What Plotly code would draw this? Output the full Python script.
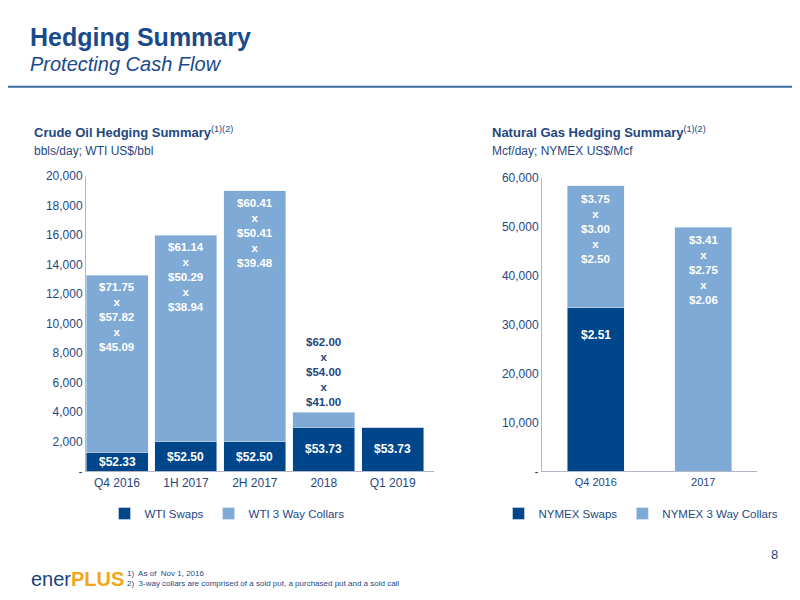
import plotly.graph_objects as go

oil_cats = ["Q4 2016", "1H 2017", "2H 2017", "2018", "Q1 2019"]
oil_swaps = [1300, 2000, 2000, 3000, 3000]
oil_collars = [12000, 14000, 17000, 1000, 0]
oil_swap_px = ["$52.33", "$52.50", "$52.50", "$53.73", "$53.73"]
oil_collar_px = ["$71.75<br>x<br>$57.82<br>x<br>$45.09", "$61.14<br>x<br>$50.29<br>x<br>$38.94",
                 "$60.41<br>x<br>$50.41<br>x<br>$39.48", "$62.00<br>x<br>$54.00<br>x<br>$41.00", ""]
gas_cats = ["Q4 2016", "2017"]
gas_swaps = [33500, 0]
gas_collars = [25000, 50000]
gas_swap_px = ["$2.51", ""]
gas_collar_px = ["$3.75<br>x<br>$3.00<br>x<br>$2.50", "$3.41<br>x<br>$2.75<br>x<br>$2.06"]

DARK = "#00468b"
LIGHT = "#7faad5"
TXT = "#1f477f"
FONT = "Liberation Sans"

def Y(p):  # target pixel row -> paper y (compensating the observed render mapping)
    d = (p - 15.4) / 0.973
    return 1 - d / 600

def X(p):
    return (p - 3) / 800

fig = go.Figure()
fig.add_bar(x=oil_cats, y=oil_swaps, name="WTI Swaps", marker_color=DARK, width=0.9,
            xaxis="x", yaxis="y", legend="legend")
fig.add_bar(x=oil_cats, y=oil_collars, name="WTI 3 Way Collars", marker_color=LIGHT, width=0.9,
            xaxis="x", yaxis="y", legend="legend")
fig.add_bar(x=gas_cats, y=gas_swaps, name="NYMEX Swaps", marker_color=DARK, width=0.53,
            xaxis="x2", yaxis="y2", legend="legend2")
fig.add_bar(x=gas_cats, y=gas_collars, name="NYMEX 3 Way Collars", marker_color=LIGHT, width=0.53,
            xaxis="x2", yaxis="y2", legend="legend2")

ann = []
lf = dict(family=FONT, size=11.5, color="white")
for i, (s, col, sp, cp) in enumerate(zip(oil_swaps, oil_collars, oil_swap_px, oil_collar_px)):
    ann.append(dict(x=i, y=s / 2, text="<b>%s</b>" % sp, xref="x", yref="y", showarrow=False,
                    yanchor="middle", font=dict(family=FONT, size=12, color="white")))
    if cp:
        if col > 5000:
            ann.append(dict(x=i, y=s + col, text="<b>%s</b>" % cp, xref="x", yref="y", showarrow=False,
                            yanchor="top", yshift=-4, font=lf))
        else:
            ann.append(dict(x=i, y=s + col, text="<b>%s</b>" % cp, xref="x", yref="y", showarrow=False,
                            yanchor="bottom", yshift=2, font=dict(family=FONT, size=11.5, color=TXT)))
for i, (s, col, sp, cp) in enumerate(zip(gas_swaps, gas_collars, gas_swap_px, gas_collar_px)):
    if sp:
        ann.append(dict(x=i, y=s, text="<b>%s</b>" % sp, xref="x2", yref="y2", showarrow=False,
                        yanchor="top", yshift=-18, font=dict(family=FONT, size=12, color="white")))
    ann.append(dict(x=i, y=s + col, text="<b>%s</b>" % cp, xref="x2", yref="y2", showarrow=False,
                    yanchor="top", yshift=-5, font=lf))

def pt(x, y, text, size, color=TXT, xa="left", ya="middle"):
    ann.append(dict(x=X(x), y=Y(y), xref="paper", yref="paper", text=text, showarrow=False,
                    xanchor=xa, yanchor=ya, font=dict(family=FONT, size=size, color=color)))

pt(23, 37, "<b>Hedging Summary</b>", 25, "#1a4a8a")
pt(23, 64, "<i>Protecting Cash Flow</i>", 20, "#1a4a8a")
pt(27, 132, "<b>Crude Oil Hedging Summary</b><sup>(1)(2)</sup>", 13)
pt(27, 151, "bbls/day; WTI US$/bbl", 12)
pt(485, 132, "<b>Natural Gas Hedging Summary</b><sup>(1)(2)</sup>", 13)
pt(485, 151, "Mcf/day; NYMEX US$/Mcf", 12)
pt(775, 553, "8", 13, "#1a4a8a", xa="right")
pt(120, 572, "1)  As of  Nov 1, 2016", 8)
pt(120, 582, "2)  3-way collars are comprised of a sold put, a purchased put and a sold call", 8)
pt(24, 577, "<span style='color:#1c3f80'>ener</span><b><span style='color:#f0a818'>PLUS</span></b>", 20)

ax = dict(showgrid=False, linecolor="#b0b8c8", showline=True, ticks="",
          tickfont=dict(family=FONT, size=12, color=TXT))
fig.update_layout(
    width=800, height=600, margin=dict(l=0, r=0, t=0, b=0),
    paper_bgcolor="white", plot_bgcolor="white", barmode="stack", showlegend=True,
    xaxis=dict(ax, type="category", domain=[X(81), X(429)], range=[-0.45, 4.6]),
    yaxis=dict(ax, domain=[Y(470), Y(176)], range=[0, 20000], tickvals=list(range(0, 20001, 2000)),
               ticktext=["-"] + ["{:,}".format(v) for v in range(2000, 20001, 2000)], anchor="x"),
    xaxis2=dict(ax, type="category", domain=[X(537), X(752)], range=[-0.5, 1.5], anchor="y2",
                tickfont=dict(family=FONT, size=11, color=TXT)),
    yaxis2=dict(ax, domain=[Y(470), Y(178)], range=[0, 60000], anchor="x2",
                tickvals=list(range(0, 60001, 10000)),
                ticktext=["-"] + ["{:,}".format(v) for v in range(10000, 60001, 10000)]),
    legend=dict(orientation="h", x=X(222), y=Y(512), xanchor="center", yanchor="middle",
                font=dict(family=FONT, size=11.5, color=TXT), traceorder="normal", itemwidth=30),
    legend2=dict(orientation="h", x=X(636), y=Y(512), xanchor="center", yanchor="middle",
                 font=dict(family=FONT, size=11.5, color=TXT), traceorder="normal", itemwidth=30),
    annotations=ann,
    shapes=[dict(type="line", xref="paper", yref="paper", x0=0, x1=1, y0=Y(87), y1=Y(87),
                 line=dict(color="#3d6aa3", width=2))],
)
fig.write_html("out.html")
